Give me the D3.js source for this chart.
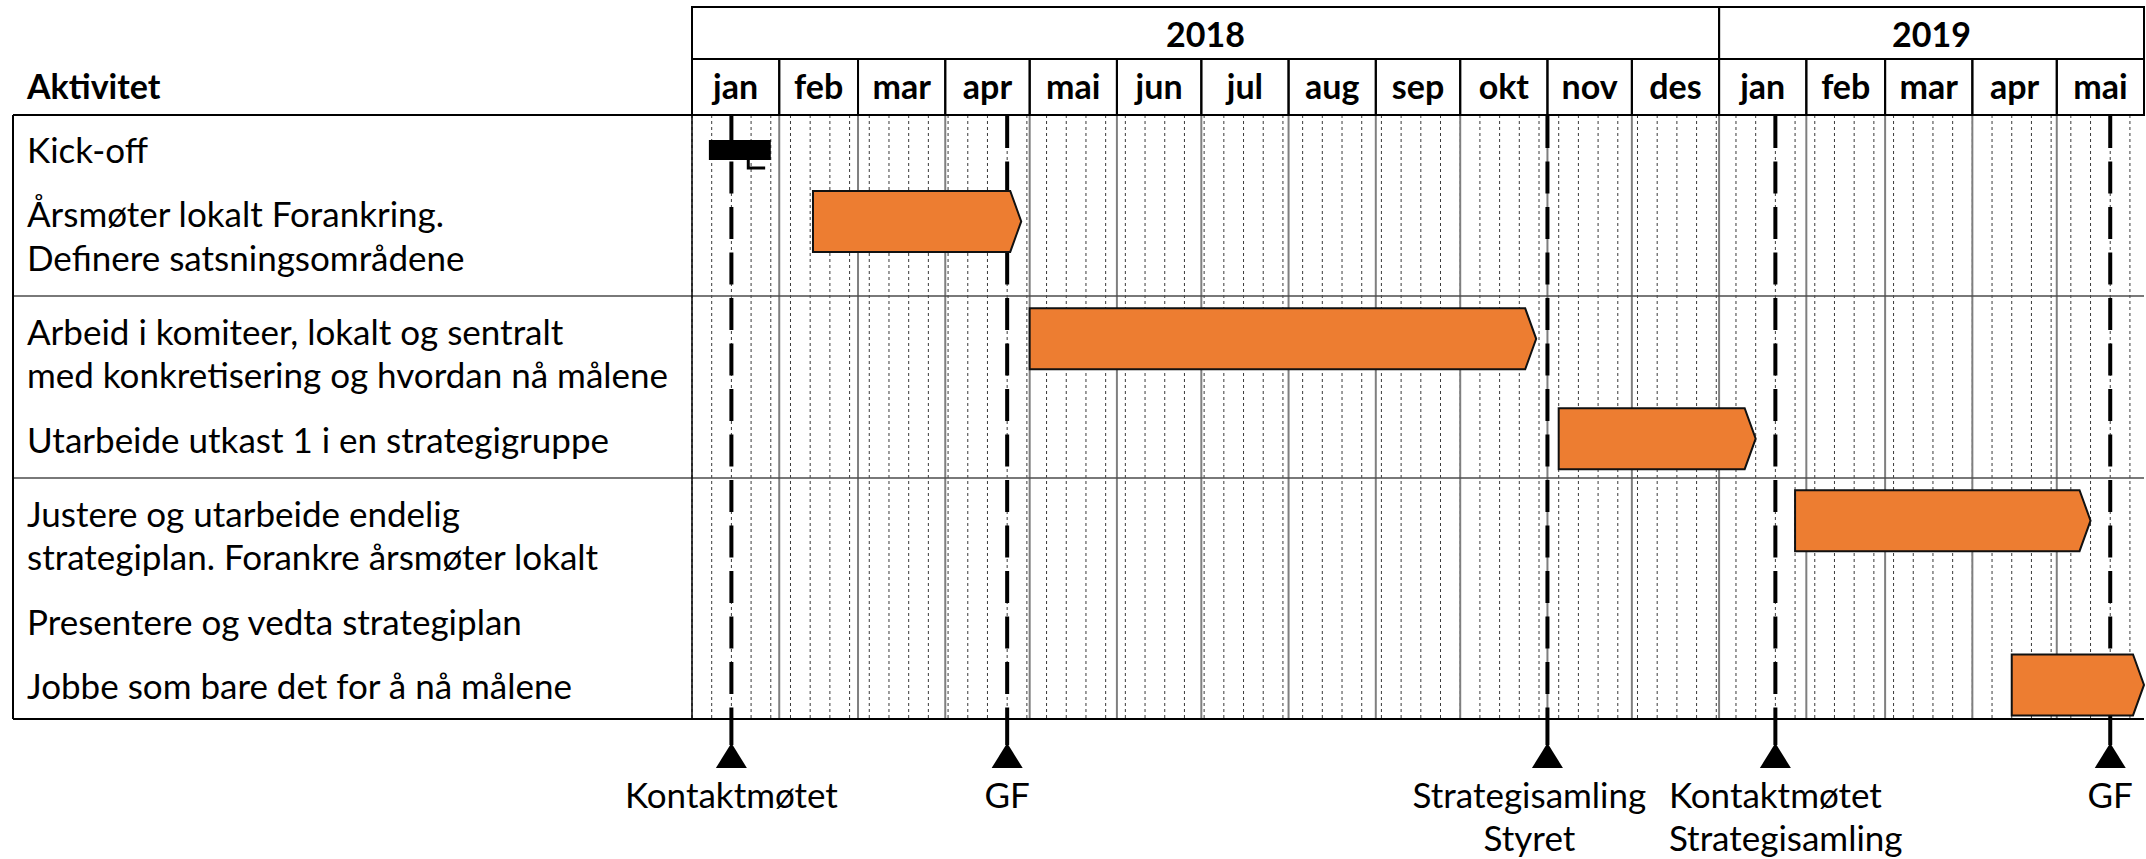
<!DOCTYPE html>
<html><head><meta charset="utf-8">
<script src="https://cdn.jsdelivr.net/npm/d3@7"></script>
<style>body{margin:0;background:#fff} svg{display:block}</style>
</head><body>
<svg id="c" width="2146" height="859"></svg>
<script>
// ---------- DATA ----------
const years = ["2018", "2019"];
const monthLabels = ["jan","feb","mar","apr","mai","jun","jul","aug","sep","okt","nov","des","jan","feb","mar","apr","mai"];
const headerLabel = "Aktivitet";
const taskLabels = [
  ["Kick-off"],
  ["Årsmøter lokalt Forankring.", "Definere satsningsområdene"],
  ["Arbeid i komiteer, lokalt og sentralt", "med konkretisering og hvordan nå målene"],
  ["Utarbeide utkast 1 i en strategigruppe"],
  ["Justere og utarbeide endelig", "strategiplan. Forankre årsmøter lokalt"],
  ["Presentere og vedta strategiplan"],
  ["Jobbe som bare det for å nå målene"]
];
const taskGroup = [0, 0, 1, 1, 2, 2, 2];
const taskKind  = ["summary", "task", "task", "task", "task", "none", "task"];
const taskStart = ["2018-01-07", "2018-02-13", "2018-05-01", "2018-11-05", "2019-01-28", null, "2019-04-15"];
const taskEnd   = ["2018-01-29", "2018-04-28", "2018-10-28", "2019-01-14", "2019-05-13", null, "2019-06-01"];
const summaryTail = ["2018-01-21", "2018-01-27"];
const milestoneDates  = ["2018-01-15", "2018-04-23", "2018-11-01", "2019-01-21", "2019-05-20"];
const milestoneLabels = [["Kontaktmøtet"], ["GF"], ["Strategisamling", "Styret"], ["Kontaktmøtet", "Strategisamling"], ["GF"]];
const timelineStart = "2018-01-01", timelineEnd = "2019-06-01";

// ---------- LAYOUT / STYLE ----------
const leftX = 13, textX = 27, chartX0 = 692, chartX1 = 2144;
const headTop = 7, yearBottom = 59, bodyTop = 115;
const lineH = 43.5, firstBase = 163, taskGap = 1.48, groupGap = 1.7;
const FONT = "Lato, 'Open Sans', sans-serif";
const fs = 35, fsHead = 34;
const orange = "#ED7D31";
const milestoneAlign = ["middle", "middle", "shift", "startFirst", "middle"];

const parse = d3.timeParse("%Y-%m-%d");
const svg = d3.select("#c");

const x = d3.scaleTime().domain([parse(timelineStart), parse(timelineEnd)]).range([chartX0, chartX1]);

// vertical slot layout
const firstSlot = [], lastSlot = [];
taskLabels.forEach((lab, i) => {
  let s = 0;
  if (i > 0) s = lastSlot[i - 1] + (taskGroup[i] !== taskGroup[i - 1] ? groupGap : taskGap);
  firstSlot.push(s); lastSlot.push(s + lab.length - 1);
});
const ys = d3.scaleLinear().domain([0, 1]).range([firstBase, firstBase + lineH]);
const bodyBottom = Math.round(ys(lastSlot[lastSlot.length - 1] + 0.47));

const [d0, d1] = x.domain();
const months = d3.timeMonth.range(d0, d1);
const weeks = d3.timeMonday.range(d0, d1);
const yearStarts = d3.timeYear.range(d3.timeYear.floor(d0), d1);

// ---------- BODY GRID ----------
const grid = svg.append("g");
grid.selectAll("line.wk").data(weeks).join("line")
  .attr("x1", d => x(d)).attr("x2", d => x(d))
  .attr("y1", bodyTop).attr("y2", bodyBottom)
  .attr("stroke", "#3a3a3a").attr("stroke-width", 1).attr("stroke-dasharray", "3,3");
grid.selectAll("line.mo").data(months.slice(1)).join("line")
  .attr("x1", d => x(d)).attr("x2", d => x(d))
  .attr("y1", bodyTop).attr("y2", bodyBottom)
  .attr("stroke", "#7f7f7f").attr("stroke-width", 2);

// group separators
const groupEnds = [];
taskGroup.forEach((g, i) => { if (i < taskGroup.length - 1 && taskGroup[i + 1] !== g) groupEnds.push(i); });
grid.selectAll("line.gs").data(groupEnds).join("line")
  .attr("x1", leftX).attr("x2", chartX1)
  .attr("y1", i => Math.round(ys(lastSlot[i] + 0.58))).attr("y2", i => Math.round(ys(lastSlot[i] + 0.58)))
  .attr("stroke", "#4d4d4d").attr("stroke-width", 1.5);

// milestone dashed lines
const ms = milestoneDates.map(parse);
svg.append("g").selectAll("line").data(ms).join("line")
  .attr("x1", d => x(d)).attr("x2", d => x(d))
  .attr("y1", bodyTop + 1).attr("y2", bodyBottom)
  .attr("stroke", "#000").attr("stroke-width", 4).attr("stroke-dasharray", "32,13.5");

// ---------- BARS ----------
const bars = svg.append("g");
taskLabels.forEach((lab, i) => {
  if (taskKind[i] === "none") return;
  const xs = x(parse(taskStart[i])), xe = x(parse(taskEnd[i]));
  const base = ys(firstSlot[i]);
  if (taskKind[i] === "summary") {
    const cy = base - 13, h = 20;
    bars.append("rect").attr("x", xs).attr("y", cy - h / 2).attr("width", xe - xs).attr("height", h).attr("fill", "#000");
    const t0 = x(parse(summaryTail[0])), t1 = x(parse(summaryTail[1]));
    bars.append("path").attr("d", `M${t0},${cy + h / 2} V${cy + h / 2 + 8} H${t1}`)
      .attr("fill", "none").attr("stroke", "#000").attr("stroke-width", 3);
  } else {
    const cy = base - (lab.length > 1 ? 6 : 14), h = 61, tip = 11;
    const y0 = cy - h / 2, y1 = cy + h / 2;
    bars.append("path")
      .attr("d", `M${xs},${y0} L${xe - tip},${y0} L${xe},${cy} L${xe - tip},${y1} L${xs},${y1} Z`)
      .attr("fill", orange).attr("stroke", "#111").attr("stroke-width", 2).attr("stroke-linejoin", "miter");
  }
});

// ---------- HEADER ----------
const head = svg.append("g");
yearStarts.forEach((ys0, i) => {
  const a = x(d3.max([ys0, d0])), b = x(d3.min([d3.timeYear.offset(ys0, 1), d1]));
  head.append("rect").attr("x", a).attr("y", headTop).attr("width", b - a).attr("height", yearBottom - headTop)
    .attr("fill", "none").attr("stroke", "#000").attr("stroke-width", 2);
  head.append("text").attr("x", (a + b) / 2).attr("y", 47).attr("text-anchor", "middle")
    .attr("font-family", FONT).attr("font-weight", 700).attr("font-size", fsHead).text(years[i]);
});
months.forEach((m, i) => {
  const a = x(m), b = x(d3.min([d3.timeMonth.offset(m, 1), d1]));
  head.append("rect").attr("x", a).attr("y", yearBottom).attr("width", b - a).attr("height", bodyTop - yearBottom)
    .attr("fill", "none").attr("stroke", "#000").attr("stroke-width", 2);
  head.append("text").attr("x", (a + b) / 2).attr("y", 99).attr("text-anchor", "middle")
    .attr("font-family", FONT).attr("font-weight", 700).attr("font-size", fsHead).text(monthLabels[i]);
});
head.append("text").attr("x", textX).attr("y", 99)
  .attr("font-family", FONT).attr("font-weight", 700).attr("font-size", fsHead).text(headerLabel);

// ---------- LEFT LABELS ----------
const lt = svg.append("g").attr("font-family", FONT).attr("font-size", fs).attr("fill", "#000");
taskLabels.forEach((lab, i) => {
  lab.forEach((line, j) => {
    lt.append("text").attr("x", textX).attr("y", ys(firstSlot[i] + j)).text(line);
  });
});

// ---------- BORDERS ----------
const bd = svg.append("g").attr("stroke", "#000");
bd.append("line").attr("x1", leftX).attr("x2", chartX1).attr("y1", bodyTop).attr("y2", bodyTop).attr("stroke-width", 2);
bd.append("line").attr("x1", leftX).attr("x2", chartX1).attr("y1", bodyBottom).attr("y2", bodyBottom).attr("stroke-width", 2);
bd.append("line").attr("x1", leftX).attr("x2", leftX).attr("y1", bodyTop).attr("y2", bodyBottom).attr("stroke-width", 2);
bd.append("line").attr("x1", chartX0).attr("x2", chartX0).attr("y1", bodyTop).attr("y2", bodyBottom).attr("stroke-width", 1.5);

// ---------- MILESTONE MARKERS ----------
const mk = svg.append("g");
ms.forEach((d, i) => {
  const mx = x(d);
  mk.append("line").attr("x1", mx).attr("x2", mx).attr("y1", bodyBottom).attr("y2", 745)
    .attr("stroke", "#000").attr("stroke-width", 4);
  mk.append("path").attr("d", `M${mx},743 L${mx + 15.5},768 L${mx - 15.5},768 Z`).attr("fill", "#000");
  const lines = milestoneLabels[i];
  const g = mk.append("g").attr("font-family", FONT).attr("font-size", fs);
  const texts = lines.map((l, j) => g.append("text").attr("y", 808 + j * 43).text(l));
  const mode = milestoneAlign[i];
  if (mode === "startFirst") {
    const w0 = texts[0].node().getComputedTextLength();
    texts.forEach(t => t.attr("x", mx - w0 / 2).attr("text-anchor", "start"));
  } else if (mode === "shift") {
    texts.forEach(t => t.attr("x", mx - 18).attr("text-anchor", "middle"));
  } else {
    texts.forEach(t => t.attr("x", mx).attr("text-anchor", "middle"));
  }
});
</script>
</body></html>
